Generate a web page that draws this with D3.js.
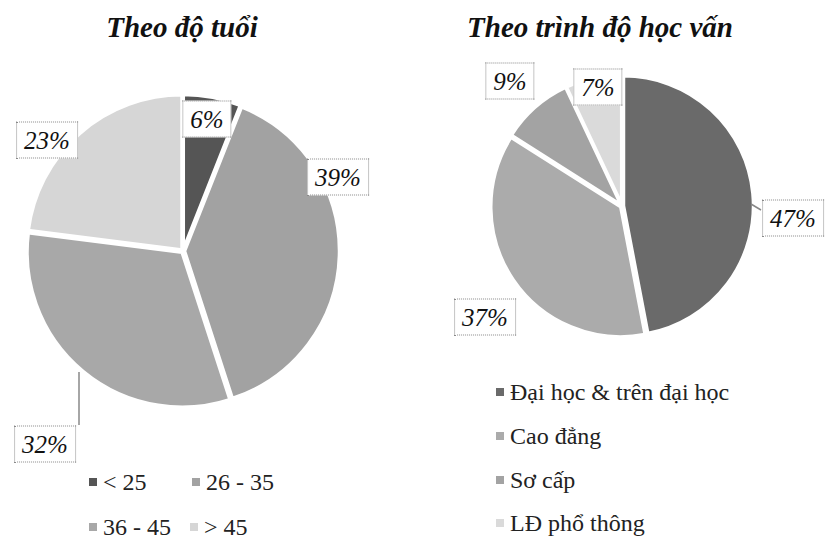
<!DOCTYPE html>
<html>
<head>
<meta charset="utf-8">
<script src="https://cdn.jsdelivr.net/npm/d3@7"></script>
<style>
  body { margin: 0; background: #fff; }
  #chart { position: relative; width: 827px; height: 540px; font-family: "Liberation Serif", serif; }
  #chart svg { position: absolute; left: 0; top: 0; display: block; }
  .lbl, .title, .leg { position: absolute; white-space: nowrap; }
  .title { font-style: italic; font-weight: bold; font-size: 29px; line-height: 29px; color: #111; transform: translateX(-50%); }
  .lbl { font-style: italic; font-size: 25px; line-height: 35px; height: 35px; padding: 0 7px; color: #111;
         background: #fff; border: 1.6px dotted #8a8a8a; transform: translate(-50%, -50%); }
  .leg { font-size: 24px; line-height: 24px; color: #222; }
</style>
</head>
<body>
<div id="chart"></div>
<script>
// chart data
var ageLabels = ["< 25", "26 - 35", "36 - 45", "> 45"]
var ageValues = [6, 39, 32, 23]
var eduLabels = ["Đại học & trên đại học", "Cao đẳng", "Sơ cấp", "LĐ phổ thông"]
var eduValues = [47, 37, 9, 7]

var w = 827
var h = 540

var chart = d3.select("#chart")
var svg = chart.append("svg")
    .attr("width", w)
    .attr("height", h)

// draw one pie with boxed percentage labels
function drawPie(opts) {
    var pie = d3.pie().sort(null).value(function(d) { return d })
    var arcs = pie(opts.values)
    var arc = d3.arc().innerRadius(0).outerRadius(opts.r)
    var g = svg.append("g")
        .attr("transform", "translate(" + opts.cx + "," + opts.cy + ")")

    g.selectAll("path")
        .data(arcs)
        .enter()
        .append("path")
        .attr("d", arc)
        .attr("fill", function(d, i) { return opts.colors[i] })
        .attr("stroke", "#fff")
        .attr("stroke-width", 3.5)
        .attr("transform", function(d) {
            var a = (d.startAngle + d.endAngle) / 2
            return "translate(" + (Math.sin(a) * 1.5) + "," + (-Math.cos(a) * 1.5) + ")"
        })

    // leader lines
    opts.leaders.forEach(function(l) {
        svg.append("path")
            .attr("d", d3.line()(l))
            .attr("stroke", "#888")
            .attr("stroke-width", 1.5)
            .attr("fill", "none")
    })

    // label boxes
    arcs.forEach(function(d, i) {
        var p = opts.labelPos[i]
        chart.append("div")
            .attr("class", "lbl")
            .style("left", p[0] + "px")
            .style("top", p[1] + "px")
            .text(opts.values[i] + "%")
    })

    // title
    chart.append("div")
        .attr("class", "title")
        .style("left", opts.titleX + "px")
        .style("top", (37 - 24) + "px")
        .text(opts.title)
}

var ageColors = ["#555555", "#a2a2a2", "#a8a8a8", "#d6d6d6"]
var eduColors = ["#6a6a6a", "#ababab", "#a3a3a3", "#dadada"]

drawPie({
    values: ageValues, colors: ageColors,
    cx: 183, cy: 251, r: 155,
    title: "Theo độ tuổi", titleX: 182,
    labelPos: [[207, 119], [338, 177], [45, 444], [47, 140]],
    leaders: [[[79, 372], [79, 425]]]
})

drawPie({
    values: eduValues, colors: eduColors,
    cx: 622, cy: 206, r: 130,
    title: "Theo trình độ học vấn", titleX: 600,
    labelPos: [[793, 218], [485, 317], [510, 81], [598, 87]],
    leaders: [[[751, 204], [761, 210]]]
})

// legends
function legend(items, colors, positions) {
    items.forEach(function(t, i) {
        var p = positions[i]
        svg.append("rect")
            .attr("x", p[0])
            .attr("y", p[1] - 4)
            .attr("width", 8)
            .attr("height", 8)
            .attr("fill", colors[i])
        chart.append("div")
            .attr("class", "leg")
            .style("left", (p[0] + 14) + "px")
            .style("top", (p[1] + 8 - 20) + "px")
            .text(t)
    })
}

legend(ageLabels, ageColors, [[89, 482], [192, 482], [89, 527], [190, 527]])
legend(eduLabels, eduColors, [[496, 392], [496, 436], [496, 480], [496, 523]])
</script>
</body>
</html>
